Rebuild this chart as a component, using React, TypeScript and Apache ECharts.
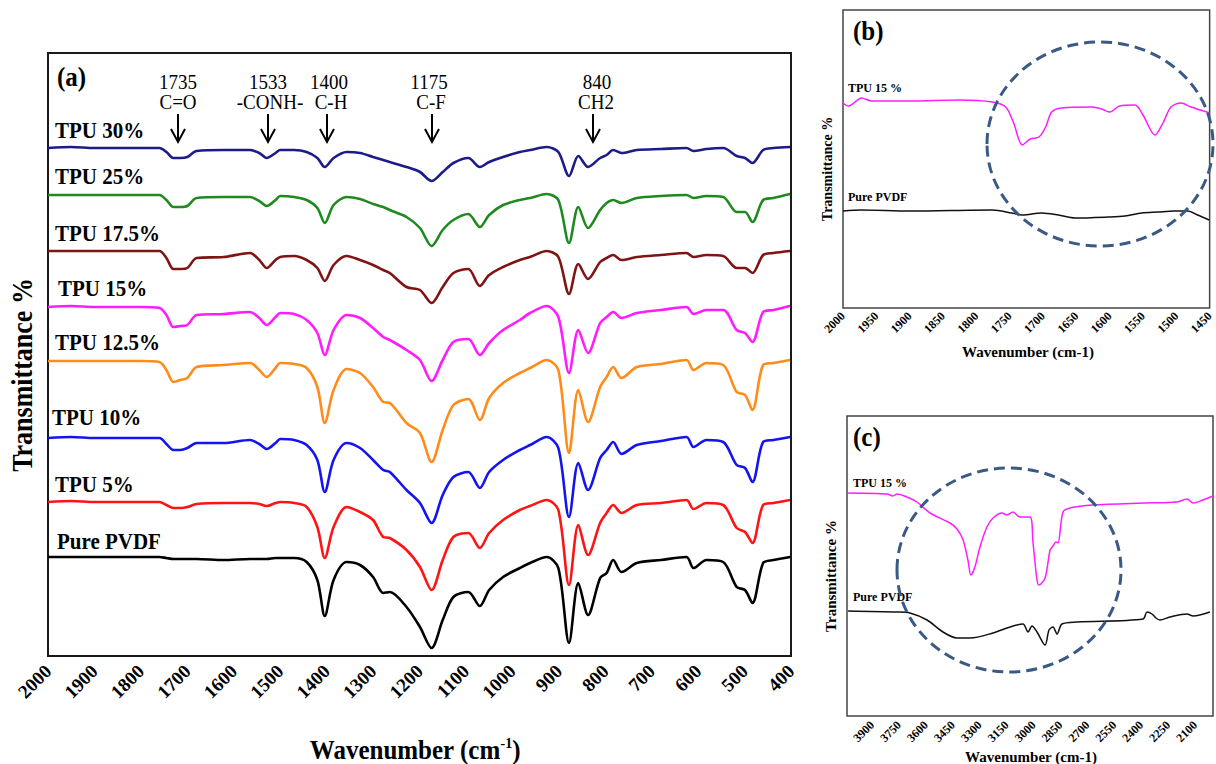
import React, { useEffect, useRef } from "react";
import * as echarts from "echarts";

// ---------- Panel (a): wavenumbers (cm-1) and transmittance (offset, arbitrary units) ----------
const W_A = [2000,1950,1900,1850,1800,1760,1745,1730,1715,1700,1680,1622,1565,1545,1529,1510,1500,1470,1443,1420,1404,1385,1357,1328,1300,1278,1264,1228,1199,1174,1150,1127,1095,1070,1050,1020,984,962,926,901,878,858,837,811,797,783,765,732,680,625,610,582,546,517,499,483,460,438,402];

const TPU30 = [552,553,552,552,552,552,548,542,542,543,549,550,550,547,542,547,550,550,548,542,533,542,548,547,543,540,538,533,528,519,528,537,542,533,538,543,548,550,553,548,524,544,533,542,545,550,547,550,551,552,549,551,552,544,542,537,550,552,553];
const TPU25 = [505,505,505,505,505,505,500,493,493,494,502,503,503,499,494,500,504,503,500,492,477,495,503,501,496,493,490,483,472,454,470,480,486,473,485,495,500,502,506,500,457,493,472,490,497,500,497,502,504,505,502,504,503,488,488,478,500,502,506];
const TPU175 = [449,449,449,449,449,449,442,431,431,432,442,443,447,440,432,440,443,444,440,432,419,435,444,440,435,430,427,413,410,397,413,427,431,414,425,433,440,443,449,443,406,436,421,438,442,445,440,443,445,447,443,445,444,432,432,427,445,447,449];
const TPU15 = [393,394,393,393,393,392,385,373,374,375,385,386,388,382,375,383,387,386,380,367,345,370,385,382,372,363,360,350,340,319,340,358,361,345,357,370,380,387,394,383,327,370,347,377,383,388,382,387,390,393,386,390,390,370,367,358,388,390,394];
const TPU125 = [339,339,339,339,339,338,330,318,320,322,333,335,337,330,323,332,337,336,332,313,277,310,331,327,313,298,297,277,267,238,270,295,301,280,302,317,327,332,340,330,247,310,278,313,323,333,322,333,336,340,330,337,335,308,305,290,335,337,340];
const TPU10 = [262,263,262,262,262,262,256,250,250,252,257,257,260,256,251,257,261,260,255,240,208,240,257,252,240,230,228,210,197,177,205,223,228,212,228,240,250,255,263,252,183,237,210,242,250,258,246,255,259,263,253,260,258,235,232,218,258,260,263];
const TPU5 = [198,199,198,198,198,198,195,192,192,193,196,197,197,196,194,197,198,197,193,173,142,173,193,188,180,163,162,150,133,110,140,163,167,152,167,180,190,194,200,190,115,175,145,177,187,195,187,195,197,200,191,197,195,172,168,157,195,197,200];
const PVDF = [143,143,143,143,143,143,142,141,141,141,141,140,141,141,141,142,142,142,138,120,84,120,138,135,123,107,108,93,73,52,80,103,108,94,110,123,132,137,143,132,57,117,85,122,127,140,128,137,140,143,132,140,138,113,110,97,137,140,143];

const SERIES_A = [
  { name: "TPU 30%", values: TPU30, color: "#1c1c88" },
  { name: "TPU 25%", values: TPU25, color: "#1f8a1f" },
  { name: "TPU 17.5%", values: TPU175, color: "#801414" },
  { name: "TPU 15%", values: TPU15, color: "#ff1cff" },
  { name: "TPU 12.5%", values: TPU125, color: "#ff8c1a" },
  { name: "TPU 10%", values: TPU10, color: "#1414f0" },
  { name: "TPU 5%", values: TPU5, color: "#ff1414" },
  { name: "Pure PVDF", values: PVDF, color: "#000000" },
];

// peak annotations of panel (a)
const PEAK_NUMBERS = ["1735", "1533", "1400", "1175", "840"];
const PEAK_GROUPS = ["C=O", "-CONH-", "C-H", "C-F", "CH2"];

// ---------- Panel (b) ----------
const W_B_TPU = [2000,1992,1972,1957,1900,1826,1776,1756,1744,1731,1719,1706,1696,1687,1672,1627,1612,1600,1585,1562,1550,1532,1520,1508,1493,1478,1450];
const T_B_TPU = [217,214,222,219,219,220,218,213,197,175,181,183,193,208,212,213,211,208,214,215,205,185,197,213,217,213,207];
const W_B_PVDF = [2000,1973,1900,1776,1747,1731,1702,1677,1652,1602,1577,1552,1528,1503,1483,1468,1451];
const T_B_PVDF = [109,110,109,110,107,105,107,105,102,103,104,107,108,109,109,105,100];

// ---------- Panel (c) ----------
const W_C_TPU = [4034,3817,3784,3761,3706,3650,3577,3466,3427,3393,3366,3349,3327,3299,3260,3226,3176,3148,3115,3076,3020,3003,2981,2970,2936,2908,2892,2875,2864,2836,2797,2669,2390,2201,2145,2111,2056,2000];
const T_C_TPU = [267,266,264,266,263,258,247,237,231,220,200,185,193,213,233,242,247,245,248,243,243,217,180,175,182,210,214,218,217,248,252,255,257,258,261,257,260,264];
const W_C_PVDF = [4034,3761,3689,3594,3505,3427,3354,3226,3131,3059,3031,3009,2981,2936,2914,2892,2869,2842,2758,2390,2368,2340,2318,2296,2240,2145,2111,2017];
const T_C_PVDF = [149,148,147,140,128,122,122,127,133,136,128,134,128,115,130,133,126,136,138,141,148,146,142,140,143,146,144,148];
const C_TICKS = [3900,3750,3600,3450,3300,3150,3000,2850,2700,2550,2400,2250,2100];

const SERIF = '"Liberation Serif", "Times New Roman", serif';

function pairs(ws: number[], vs: number[]) {
  return ws.map((w, i) => [w, vs[i]]);
}

function txt(text: string, x: number, y: number, font: string, align = "left", rotation = 0, scaleY = 1) {
  return {
    type: "text",
    x,
    y,
    rotation,
    scaleY,
    z: 50,
    style: { text, font, fill: "#000", textAlign: align, textVerticalAlign: "middle" },
  };
}

function arrow(x: number) {
  return [
    { type: "line", z: 50, shape: { x1: x, y1: 114, x2: x, y2: 141 }, style: { stroke: "#000", lineWidth: 2 } },
    { type: "polyline", z: 50, shape: { points: [[x - 7, 129], [x, 142], [x + 7, 129]] }, style: { stroke: "#000", lineWidth: 2, fill: null } },
  ];
}

export default function App() {
  const ref = useRef<HTMLDivElement>(null);
  useEffect(() => {
    if (!ref.current) return;
    const chart = echarts.init(ref.current, null, { renderer: "svg" });
    const labelBase = { fontWeight: "bold", fontFamily: SERIF, color: "#000", formatter: (v: number) => String(v) };
    const axisCommon = {
      type: "value",
      inverse: true,
      axisLine: { show: false },
      axisTick: { show: false },
      splitLine: { show: false },
    };
    const series: any[] = [];
    SERIES_A.forEach((s) => {
      series.push({
        type: "line",
        name: s.name,
        xAxisIndex: 0,
        yAxisIndex: 0,
        data: pairs(W_A, s.values),
        showSymbol: false,
        smooth: 0.3,
        lineStyle: { color: s.color, width: 2.6 },
        itemStyle: { color: s.color },
      });
    });
    series.push(
      { type: "line", name: "TPU 15 % (b)", xAxisIndex: 1, yAxisIndex: 1, data: pairs(W_B_TPU, T_B_TPU), showSymbol: false, smooth: 0.3, lineStyle: { color: "#ff1cff", width: 1.5 } },
      { type: "line", name: "Pure PVDF (b)", xAxisIndex: 1, yAxisIndex: 1, data: pairs(W_B_PVDF, T_B_PVDF), showSymbol: false, smooth: 0.3, lineStyle: { color: "#111", width: 1.5 } },
      { type: "line", name: "TPU 15 % (c)", xAxisIndex: 2, yAxisIndex: 2, data: pairs(W_C_TPU, T_C_TPU), showSymbol: false, smooth: 0.3, lineStyle: { color: "#ff1cff", width: 1.5 } },
      { type: "line", name: "Pure PVDF (c)", xAxisIndex: 2, yAxisIndex: 2, data: pairs(W_C_PVDF, T_C_PVDF), showSymbol: false, smooth: 0.3, lineStyle: { color: "#111", width: 1.5 } }
    );

    const labelPosA: [number, number][] = [[55, 130], [55, 176], [55, 233], [58, 288], [55, 342], [52, 417], [55, 484], [57, 541]];
    const numX = [178, 268, 329, 429, 597];
    const grpX = [178, 270, 331, 431, 596];
    const arrowX = [178, 268, 327, 432, 593];

    const graphic: any[] = [];
    SERIES_A.forEach((s, i) => graphic.push(txt(s.name, labelPosA[i][0], labelPosA[i][1], `bold 21px ${SERIF}`, "left", 0, 1.12)));
    PEAK_NUMBERS.forEach((t, i) => graphic.push(txt(t, numX[i], 82, `19px ${SERIF}`, "center", 0, 1.08)));
    PEAK_GROUPS.forEach((t, i) => graphic.push(txt(t, grpX[i], 102, `19px ${SERIF}`, "center", 0, 1.08)));
    arrowX.forEach((x) => graphic.push(...arrow(x)));
    graphic.push(
      txt("(a)", 57, 77, `bold 25px ${SERIF}`, "left", 0, 1.1),
      txt("(b)", 853, 31, `bold 25px ${SERIF}`, "left", 0, 1.1),
      txt("(c)", 853, 437, `bold 25px ${SERIF}`, "left", 0, 1.1),
      txt("Transmittance %", 23, 375, `bold 26px ${SERIF}`, "center", Math.PI / 2, 1.1),
      txt("Transmittance %", 827, 169, `bold 14px ${SERIF}`, "center", Math.PI / 2),
      txt("Transmittance %", 831, 576, `bold 15px ${SERIF}`, "center", Math.PI / 2),
      txt("Wavenumber (cm-1)", 1028, 352, `bold 15px ${SERIF}`, "center"),
      txt("Wavenumber (cm-1)", 1031, 757, `bold 15px ${SERIF}`, "center"),
      txt("TPU 15 %", 848, 88, `bold 12px ${SERIF}`),
      txt("Pure PVDF", 848, 197, `bold 12px ${SERIF}`),
      txt("TPU 15 %", 853, 483, `bold 12px ${SERIF}`),
      txt("Pure PVDF", 853, 597, `bold 12px ${SERIF}`),
      {
        type: "text",
        x: 415,
        y: 750,
        z: 50,
        scaleY: 1.1,
        style: {
          text: "{m|Wavenumber (cm}{s|-1}{m|)}",
          textAlign: "center",
          textVerticalAlign: "middle",
          rich: {
            m: { fontSize: 25, fontWeight: "bold", fontFamily: SERIF, fill: "#000", lineHeight: 28 },
            s: { fontSize: 14, fontWeight: "bold", fontFamily: SERIF, fill: "#000", verticalAlign: "top", lineHeight: 14 },
          },
        },
      },
      { type: "ellipse", z: 60, shape: { cx: 1100, cy: 144, rx: 113, ry: 102 }, style: { fill: null, stroke: "#3a5a86", lineWidth: 3, lineDash: [11, 6] } },
      { type: "ellipse", z: 60, shape: { cx: 1009, cy: 570, rx: 112, ry: 102 }, style: { fill: null, stroke: "#3a5a86", lineWidth: 3, lineDash: [11, 6] } }
    );

    chart.setOption({
      animation: false,
      backgroundColor: "#fff",
      grid: [
        { left: 48, top: 53, width: 743, height: 603, show: true, borderColor: "#1a1a1a", borderWidth: 2, backgroundColor: "transparent" },
        { left: 843, top: 10, width: 369, height: 298, show: true, borderColor: "#444", borderWidth: 1.5, backgroundColor: "transparent" },
        { left: 847, top: 416, width: 366, height: 300, show: true, borderColor: "#444", borderWidth: 1.5, backgroundColor: "transparent" },
      ],
      xAxis: [
        { ...axisCommon, gridIndex: 0, min: 400, max: 2000, interval: 100, axisLabel: { ...labelBase, rotate: 45, margin: 12, fontSize: 19 } },
        { ...axisCommon, gridIndex: 1, min: 1450, max: 2000, interval: 50, axisLabel: { ...labelBase, rotate: 45, margin: 6, fontSize: 12 } },
        { ...axisCommon, gridIndex: 2, min: 2000, max: 4040, axisLabel: { ...labelBase, rotate: 45, margin: 7, fontSize: 12, customValues: C_TICKS } },
      ],
      yAxis: [
        { type: "value", gridIndex: 0, min: 44, max: 647, show: false },
        { type: "value", gridIndex: 1, min: 12, max: 310, show: false },
        { type: "value", gridIndex: 2, min: 44, max: 344, show: false },
      ],
      graphic,
      series,
    });
    return () => chart.dispose();
  }, []);
  return <div ref={ref} style={{ position: "fixed", left: 0, top: 0, width: 1216, height: 764 }} />;
}
